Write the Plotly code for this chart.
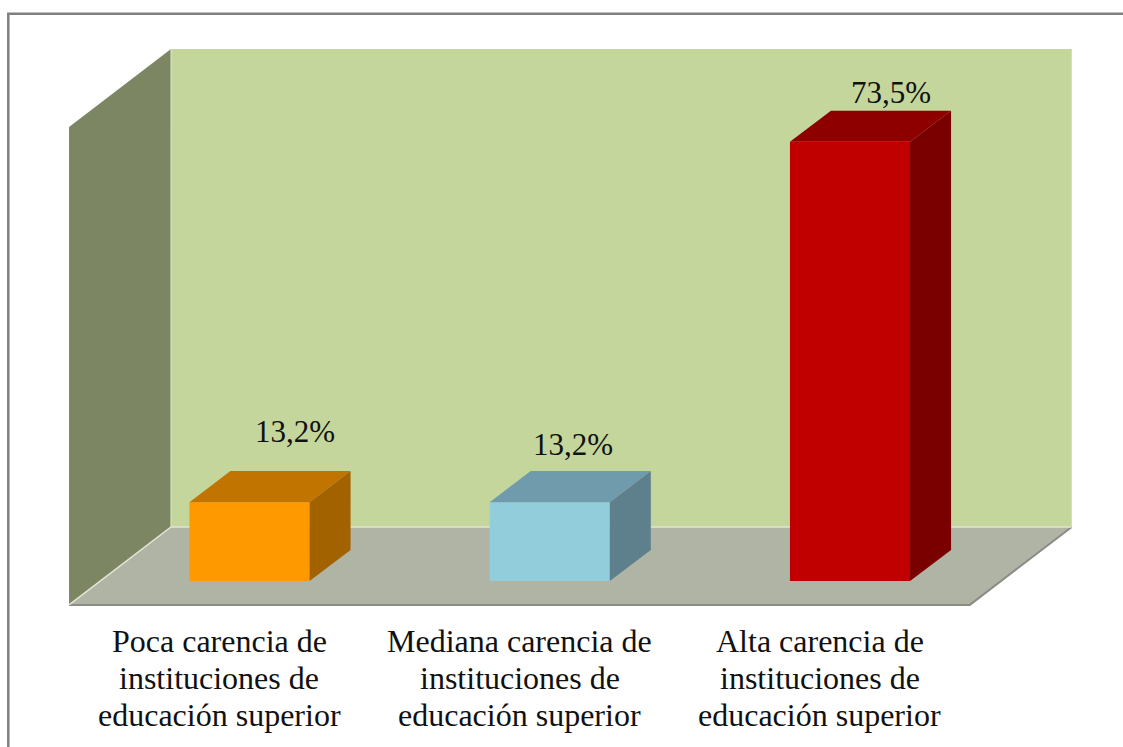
import plotly.graph_objects as go

# ---- data ----
categories = [
    ["Poca carencia de", "instituciones de", "educación superior"],
    ["Mediana carencia de", "instituciones de", "educación superior"],
    ["Alta carencia de", "instituciones de", "educación superior"],
]
values = [13.2, 13.2, 73.5]
value_labels = ["13,2%", "13,2%", "73,5%"]
front_colors = ["#FF9900", "#92CDDC", "#C00000"]
top_colors = ["#C27400", "#6F9BAC", "#8E0000"]
side_colors = ["#A36200", "#5E808C", "#7A0000"]

# ---- layout constants ----
W, H = 1123, 747
X0_PX, X_UNIT = 249.5, 300.25
Y0_PX, Y_UNIT = 581.0, 5.975
xr = [-X0_PX / X_UNIT, (W - X0_PX) / X_UNIT]
yr = [-(H - Y0_PX) / Y_UNIT, Y0_PX / Y_UNIT]
BAR_W = 0.4
BAR_DX, BAR_DY = 0.1366, 5.19
WALL_DX, WALL_DY = 0.3395, 13.05
FLOOR_Y, WALL_TOP = -4.0, 76.0
LEFT, RIGHT = -0.601, 2.399
FONT = "Liberation Serif"
LABEL_DX = [0.152, 0.078, 0.137]
LABEL_DY = [11.9, 9.7, 8.3]
CAT_DX = -0.1
LINE_Y = [641, 678, 715]


def px(xp):
    return (xp - X0_PX) / X_UNIT


def py(yp):
    return (Y0_PX - yp) / Y_UNIT


def poly(points):
    return "M " + " L ".join(f"{a},{b}" for a, b in points) + " Z"


fig = go.Figure()

xs = list(range(len(values)))
fig.add_trace(go.Bar(x=xs, y=values, width=BAR_W, marker=dict(color=front_colors, line=dict(width=0)),
                     showlegend=False, hoverinfo="skip"))

for x, v, tc, sc in zip(xs, values, top_colors, side_colors):
    l, r = x - BAR_W / 2, x + BAR_W / 2
    fig.add_trace(go.Scatter(
        x=[l, r, r + BAR_DX, l + BAR_DX, l], y=[v, v, v + BAR_DY, v + BAR_DY, v],
        mode="lines", fill="toself", fillcolor=tc, line=dict(width=0), showlegend=False, hoverinfo="skip"))
    fig.add_trace(go.Scatter(
        x=[r, r + BAR_DX, r + BAR_DX, r, r], y=[0, BAR_DY, v + BAR_DY, v, 0],
        mode="lines", fill="toself", fillcolor=sc, line=dict(width=0), showlegend=False, hoverinfo="skip"))

back_b = FLOOR_Y + WALL_DY
back_t = WALL_TOP + WALL_DY
bl = LEFT + WALL_DX
br = RIGHT + WALL_DX
shapes = [
    # back wall
    dict(type="path", path=poly([(bl, back_b), (br, back_b), (br, back_t), (bl, back_t)]),
         fillcolor="#C4D69B", line=dict(width=0), layer="below"),
    # left wall
    dict(type="path", path=poly([(LEFT, FLOOR_Y), (bl, back_b), (bl, back_t), (LEFT, WALL_TOP)]),
         fillcolor="#7C8663", line=dict(width=0), layer="below"),
    # floor
    dict(type="path", path=poly([(LEFT, FLOOR_Y), (RIGHT, FLOOR_Y), (br, back_b), (bl, back_b)]),
         fillcolor="#B0B4A5", line=dict(width=0), layer="below"),
    # floor edges
    dict(type="path", path=f"M {LEFT},{FLOOR_Y} L {RIGHT},{FLOOR_Y} L {br},{back_b}",
         line=dict(color="#8C8C86", width=2), layer="below"),
    # light creases
    dict(type="path", path=f"M {LEFT},{FLOOR_Y} L {bl},{back_b} L {br},{back_b}",
         line=dict(color="#E2E4D6", width=1.5), layer="below"),
    dict(type="line", x0=bl, x1=bl, y0=back_b, y1=back_t,
         line=dict(color="#DDE6C6", width=1), layer="below"),
    # outer chart border
    dict(type="path", path=f"M {px(8.3)},{py(H)} L {px(8.3)},{py(13.7)} L {px(W)},{py(13.7)}",
         line=dict(color="#808080", width=2.5), layer="below"),
]

annotations = []
for x, v, lab, dx, dy in zip(xs, values, value_labels, LABEL_DX, LABEL_DY):
    annotations.append(dict(x=x + dx, y=v + dy, text=lab, showarrow=False, xanchor="center", yanchor="middle",
                            font=dict(family=FONT, size=31, color="#111111")))
for x, lines in zip(xs, categories):
    for line, yp in zip(lines, LINE_Y):
        annotations.append(dict(x=x + CAT_DX, y=py(yp), text=line, showarrow=False, xanchor="center", yanchor="middle",
                                font=dict(family=FONT, size=32, color="#111111")))

fig.update_layout(
    width=W, height=H, margin=dict(l=0, r=0, t=0, b=0),
    paper_bgcolor="white", plot_bgcolor="white",
    xaxis=dict(range=xr, visible=False, fixedrange=True),
    yaxis=dict(range=yr, visible=False, fixedrange=True),
    shapes=shapes, annotations=annotations, showlegend=False,
)
fig.write_html("out.html", config={"displayModeBar": False},
               post_script="document.body.style.margin='0';document.documentElement.style.overflow='hidden';")
